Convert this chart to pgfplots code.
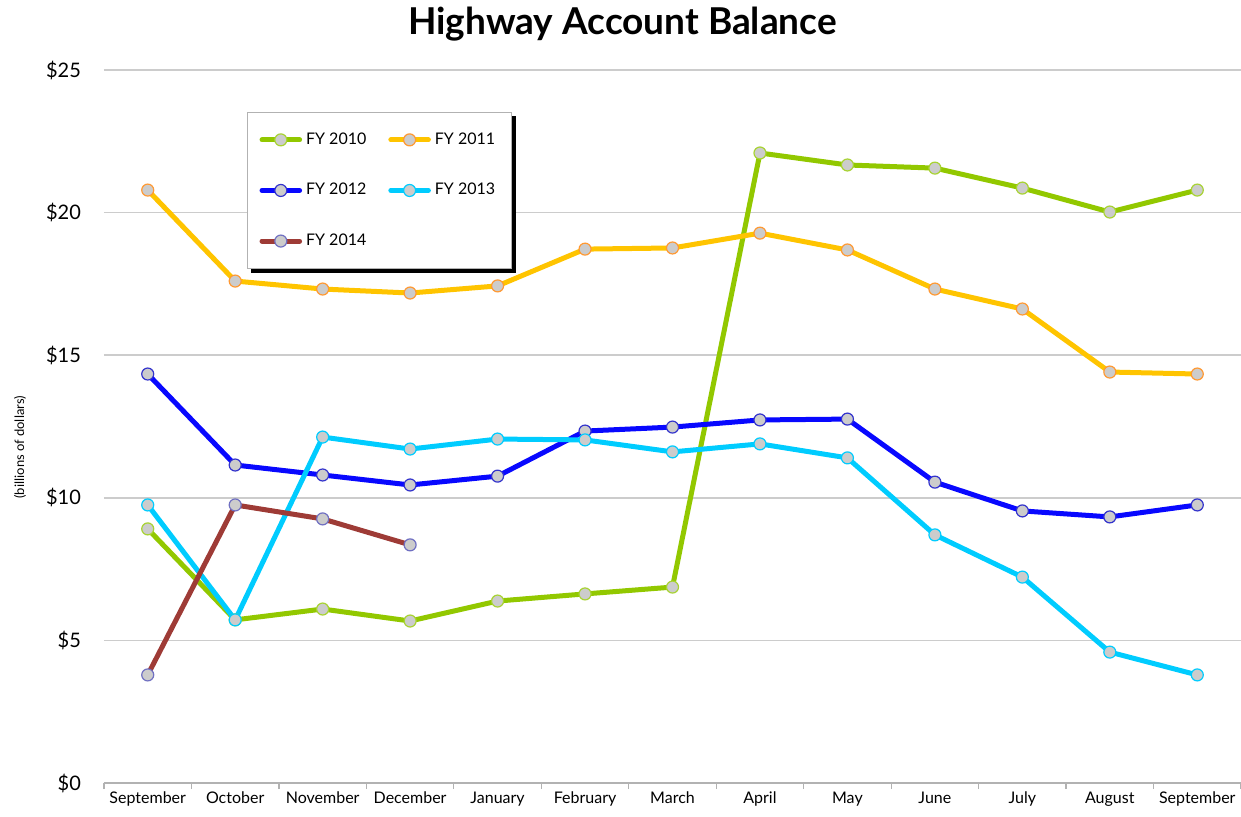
\documentclass[border=0pt]{standalone}
\usepackage{pgfplots}
\pgfplotsset{compat=1.18}
\usepackage{fontspec}
\setmainfont{Lato}
\definecolor{cGreen}{HTML}{92C800}
\definecolor{cOrange}{HTML}{FFC400}
\definecolor{cBlue}{HTML}{0808FF}
\definecolor{cCyan}{HTML}{00CCFF}
\definecolor{cBrown}{HTML}{9E3B36}
\definecolor{mFill}{HTML}{CCCCCC}
\begin{document}
\begin{tikzpicture}
\useasboundingbox (-52pt,-16.5pt) rectangle (568.5pt,391.5pt);
\begin{axis}[
  at={(0,0)}, anchor=south west,
  scale only axis,
  width=568.5pt, height=356.5pt,
  xmin=-0.5, xmax=12.5,
  ymin=0, ymax=25,
  axis lines*=left,
  x axis line style={draw=gray!60, line width=0.6pt},
  y axis line style={draw=none},
  xtick={-0.5,0.5,...,12.5},
  xticklabels={},
  tick align=outside,
  x tick style={draw=gray!60, line width=0.6pt},
  major tick length=3pt,
  extra x ticks={0,1,2,3,4,5,6,7,8,9,10,11,12},
  extra x tick labels={September,October,November,December,January,February,March,April,May,June,July,August,September},
  extra x tick style={major tick length=0pt, tick style={draw=none}},
  x tick label style={font=\fontsize{8}{9}\selectfont, yshift=-1pt},
  ytick={0,5,10,15,20,25},
  yticklabels={\$0,\$5,\$10,\$15,\$20,\$25},
  y tick style={draw=none},
  y tick label style={font=\fontsize{10}{12}\selectfont, xshift=-5pt},
  ymajorgrids,
  grid style={draw=gray!40, line width=0.8pt},
  title={Highway Account Balance},
  title style={font=\bfseries\fontsize{18.5}{22}\selectfont, xshift=-25pt, yshift=5pt},
  ylabel={(billions of dollars)},
  every axis y label/.style={at={(rel axis cs:0,0.471)}, xshift=-42pt, rotate=90, anchor=center, font=\fontsize{6.5}{8}\selectfont},
  legend columns=2,
  legend style={name=leg, at={(0.1258,0.941)}, anchor=north west, draw=gray!60, line width=0.5pt,
    fill=white, font=\fontsize{8}{10}\selectfont,
    inner xsep=6pt, inner ysep=8pt,
    /tikz/every even column/.append style={column sep=9pt},
    row sep=14pt},
  legend cell align=left,
  legend image code/.code={%
    \draw[#1, mark=none, line cap=round] (0cm,0cm) -- (0.66cm,0cm);
    \draw[#1, only marks] plot coordinates {(0.33cm,0cm)};},
  every axis plot/.append style={line width=2.5pt, mark=*, mark size=3pt},
]
\addplot[cGreen, mark options={fill=mFill, draw=cGreen!80!white, line width=0.6pt}] coordinates {
(0,8.91)(1,5.72)(2,6.10)(3,5.68)(4,6.38)(5,6.63)(6,6.87)(7,22.09)(8,21.67)(9,21.56)(10,20.86)(11,20.02)(12,20.79)};
\addlegendentry{FY 2010}
\addplot[cOrange, mark options={fill=mFill, draw=orange!80!white, line width=0.6pt}] coordinates {
(0,20.79)(1,17.60)(2,17.32)(3,17.18)(4,17.43)(5,18.72)(6,18.76)(7,19.28)(8,18.69)(9,17.32)(10,16.62)(11,14.41)(12,14.34)};
\addlegendentry{FY 2011}
\addplot[cBlue, mark options={fill=mFill, draw=blue!60!gray, line width=0.6pt}] coordinates {
(0,14.34)(1,11.15)(2,10.80)(3,10.45)(4,10.76)(5,12.34)(6,12.48)(7,12.73)(8,12.76)(9,10.55)(10,9.54)(11,9.33)(12,9.75)};
\addlegendentry{FY 2012}
\addplot[cCyan, mark options={fill=mFill, draw=cCyan, line width=0.6pt}] coordinates {
(0,9.75)(1,5.72)(2,12.13)(3,11.71)(4,12.06)(5,12.03)(6,11.61)(7,11.89)(8,11.40)(9,8.70)(10,7.22)(11,4.59)(12,3.79)};
\addlegendentry{FY 2013}
\addplot[cBrown, mark options={fill=mFill, draw=blue!40!gray!80, line width=0.6pt}] coordinates {
(0,3.79)(1,9.75)(2,9.26)(3,8.35)};
\addlegendentry{FY 2014}
\end{axis}
\fill[black] ([yshift=-2pt]leg.north east) rectangle ([shift={(2pt,-2pt)}]leg.south east);
\fill[black] ([xshift=2pt]leg.south west) rectangle ([shift={(2pt,-2pt)}]leg.south east);
\end{tikzpicture}
\end{document}
